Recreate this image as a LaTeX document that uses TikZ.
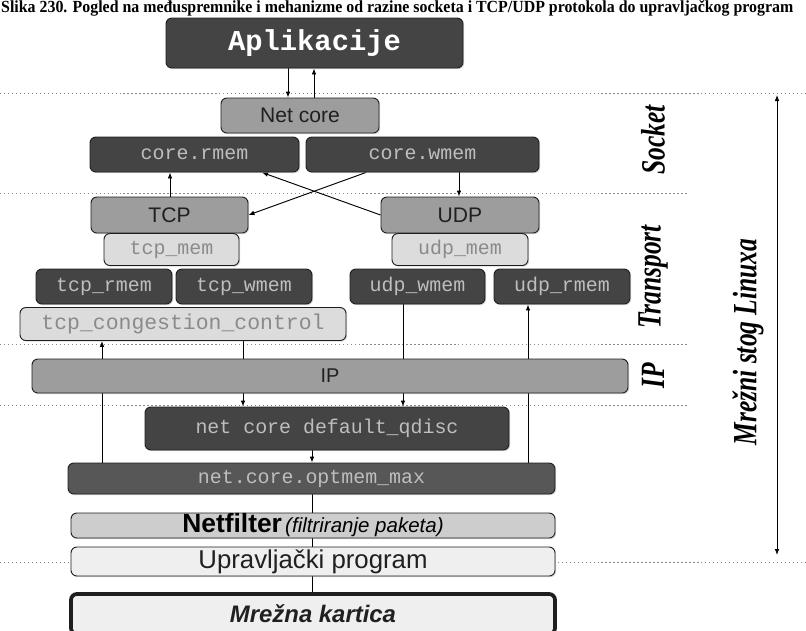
\documentclass[tikz,border=0pt]{standalone}
\usepackage{fontspec}
\setmainfont{Liberation Serif}
\setsansfont{Liberation Sans}
\setmonofont{Liberation Mono}
\usetikzlibrary{arrows.meta,calc,backgrounds,shadows}
\definecolor{nsdark}{HTML}{444444}
\definecolor{nsopt}{HTML}{575757}
\definecolor{nsmid}{HTML}{9D9D9D}
\definecolor{nslight}{HTML}{DCDCDC}
\definecolor{nsfilt}{HTML}{CDCDCD}
\definecolor{nspale}{HTML}{EFEFEF}
\definecolor{nsline}{HTML}{1E1E1E}
\definecolor{nsdot}{HTML}{8A8A8A}
\definecolor{nstxt}{HTML}{BEBEBE}
\definecolor{nstxtm}{HTML}{8A8A8A}
\definecolor{nstxtd}{HTML}{202020}
\newdimen\nspx \nspx=0.03cm
\tikzset{
  wh/.style 2 args  = {minimum width=#1\nspx, minimum height=#2\nspx},
  nsbox/.style      = {draw=nsline, rounded corners=5pt, line width=0.8pt,
                       inner sep=0pt, align=center, font=\sffamily,
                       drop shadow={shadow xshift=1pt, shadow yshift=-1pt,
                                    opacity=0.3}},
  darkbox/.style    = {nsbox, fill=nsdark, text=nstxt,
                       font=\fontsize{17}{17}\selectfont\ttfamily},
  midbox/.style     = {nsbox, fill=nsmid, text=nstxtd,
                       font=\fontsize{18}{18}\selectfont\sffamily},
  lightbox/.style   = {nsbox, fill=nslight, text=nstxtm,
                       font=\fontsize{17}{17}\selectfont\ttfamily},
  palebox/.style    = {nsbox, fill=nspale, text=nstxtd},
  %
  flow/.style       = {-{Latex[length=1.8mm,width=1.4mm]}, draw=black,
                       line width=0.8pt},
  wire/.style       = {draw=black, line width=0.8pt},
  sep/.style        = {draw=nsdot, line width=0.6pt, dash pattern=on 1.2pt off 2.2pt},
  layer/.style      = {rotate=90, inner sep=0pt,
                       font=\fontsize{29}{29}\selectfont\bfseries\itshape},
  caption/.style    = {inner sep=0pt, font=\fontsize{14.5}{14.5}\selectfont\bfseries},
}

\begin{document}
\begin{tikzpicture}[x=0.03cm, y=-0.03cm]
  \useasboundingbox (0,0) rectangle (806,630);

  % ---------- caption -----------------------------------------------------
  \node[caption, anchor=base west] (cap) at (1,12.5)
    {\scalebox{0.935}[1]{Slika 230. Pogled na međuspremnike i mehanizme od razine socketa i TCP/UDP protokola do upravljačkog program}};

  % ---------- socket ------------------------------------------------------
  \node[darkbox, text=white, wh={297}{50},
        font=\fontsize{24.6}{24.6}\selectfont\ttfamily\bfseries]
       (apl) at (314.5,43) {Aplikacije};
  \node[midbox, wh={158}{35}] (netcore) at (300,115.5) {Net core};
  \node[darkbox, wh={209}{35}] (crmem) at (194.5,154.5) {core.rmem};
  \node[darkbox, wh={233}{35}] (cwmem) at (422.5,154.5) {core.wmem};

  % ---------- transport ---------------------------------------------------
  \node[midbox, wh={157}{36}] (tcp) at (169.5,215) {TCP};
  \node[midbox, wh={158}{36}] (udp) at (460,215) {UDP};
  \node[lightbox, wh={135}{32}] (tcpmem) at (171.5,249.5) {tcp\_mem};
  \node[lightbox, wh={136}{32}] (udpmem) at (460,249.5) {udp\_mem};
  \node[darkbox, wh={136}{35}] (tcprmem) at (104,286.5) {tcp\_rmem};
  \node[darkbox, wh={136}{35}] (tcpwmem) at (244,286.5) {tcp\_wmem};
  \node[darkbox, wh={135}{35}] (udpwmem) at (417.5,286.5) {udp\_wmem};
  \node[darkbox, wh={136}{35}] (udprmem) at (562,286.5) {udp\_rmem};
  \node[lightbox, wh={326}{33}, font=\fontsize{18.3}{18.3}\selectfont\ttfamily]
       (tcpcc) at (183,324) {tcp\_congestion\_control};

  % ---------- IP and below ------------------------------------------------
  \node[midbox, wh={596}{34}, font=\fontsize{17}{17}\selectfont\sffamily]
       (ip) at (330,376) {IP};
  \node[darkbox, wh={364}{43}] (qdisc) at (327,428.5) {net core default\_qdisc};
  \node[darkbox, fill=nsopt, wh={487}{31}] (optmem) at (311.5,478.5)
       {net.core.optmem\_max};
  \node[palebox, fill=nsfilt, text=black, wh={484}{25}] (netfilter) at (313,525.5)
       {{\fontsize{22.5}{22.5}\selectfont\bfseries Netfilter}
        {\fontsize{17.5}{17.5}\selectfont\itshape (filtriranje paketa)}};
  \node[palebox, wh={484}{29}, font=\fontsize{22}{22}\selectfont\sffamily]
       (uprav) at (313,561.5) {Upravljački program};
  \node[palebox, line width=3.2pt, wh={484}{40},
        font=\fontsize{20.4}{20.4}\selectfont\sffamily\bfseries\itshape]
       (kartica) at (313,614) {Mrežna kartica};

  % ---------- layer labels ------------------------------------------------
  \node[layer] (lsock)  at (653,140) {\scalebox{0.75}[1]{Socket}};
  \node[layer] (ltrans) at (653,277) {\scalebox{0.75}[1]{Transport}};
  \node[layer] (lip)    at (653,376) {\scalebox{0.75}[1]{IP}};
  \node[layer] (lstog)  at (748,342) {\scalebox{0.75}[1]{Mrežni stog Linuxa}};

  \coordinate (stogtop) at (777,95);
  \coordinate (stogbot) at (777,555);
  \draw[{Latex[length=1.8mm,width=1.4mm]}-{Latex[length=1.8mm,width=1.4mm]},
        line width=0.8pt] (stogtop) -- (stogbot);

  % ---------- separators and connectors (behind the boxes) ----------------
  \begin{scope}[on background layer]
    \draw[sep] (0,93)  -- (806,93);
    \draw[sep] (0,193) -- (687,193);
    \draw[sep] (0,344) -- (687,344);
    \draw[sep] (0,405) -- (687,405);
    \draw[sep] (0,562) -- (806,562);

    \coordinate (xa) at (288,0);
    \coordinate (xb) at (314,0);
    \coordinate (xc) at (170,0);
    \coordinate (xd) at (459,0);
    \coordinate (xe) at (366,0);
    \coordinate (xf) at (262,0);
    \coordinate (xg) at (102,0);
    \coordinate (xh) at (243,0);
    \coordinate (xi) at (403,0);
    \coordinate (xj) at (528,0);
    \coordinate (xk) at (312,0);

    \draw[flow] (apl.south -| xa) -- (netcore.north -| xa);
    \draw[flow] (netcore.north -| xb) -- (apl.south -| xb);
    \draw[flow] (tcp.north -| xc) -- (crmem.south -| xc);
    \draw[flow] (cwmem.south -| xd) -- (udp.north -| xd);
    \draw[flow] (cwmem.south -| xe) -- (tcp.east);
    \draw[flow] (udp.west) -- (crmem.south -| xf);

    \draw[flow] (optmem.north -| xg) -- (tcpcc.south -| xg);
    \draw[flow] (tcpcc.south -| xh) -- (qdisc.north -| xh);
    \draw[flow] (udpwmem.south -| xi) -- (qdisc.north -| xi);
    \draw[flow] (optmem.north -| xj) -- (udprmem.south -| xj);
    \draw[flow] (qdisc.south -| xk) -- (optmem.north -| xk);
    \draw[wire] (optmem.south -| xk) -- (kartica.north -| xk);
  \end{scope}

\end{tikzpicture}
\end{document}
